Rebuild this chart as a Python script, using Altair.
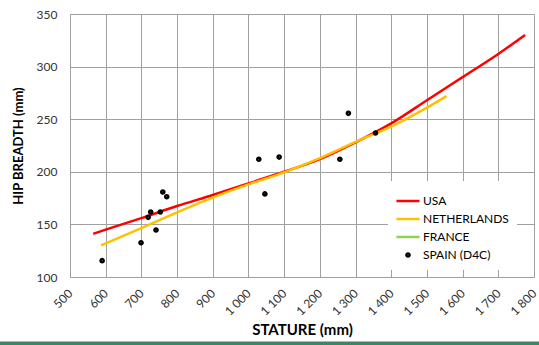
import altair as alt
import pandas as pd

# ---- data ----
series_names = ["USA", "NETHERLANDS", "FRANCE", "SPAIN (D4C)"]
series_colors = ["#ff0000", "#ffc000", "#92d050", "#000000"]

usa_stature = [565, 600, 700, 800, 900, 1000, 1100, 1200, 1300, 1400, 1500, 1600, 1700, 1775]
usa_hip = [141, 145, 156, 167.5, 178, 189, 200, 212, 228, 246, 268, 290, 312, 330]

nl_stature = [587, 700, 800, 900, 1000, 1100, 1200, 1300, 1400, 1500, 1555]
nl_hip = [130, 146.5, 161.5, 175.5, 188, 199.5, 213, 228.5, 243, 261, 272]

spain_stature = [590, 699, 719, 726, 741, 753, 760, 771, 1029, 1046, 1086, 1256, 1280, 1356]
spain_hip = [115.5, 132.6, 156.7, 161.8, 144.7, 161.8, 180.8, 176.3, 211.9, 179, 214, 211.9, 255.6, 236.9]

x_ticks = list(range(500, 1801, 100))
y_ticks = [100, 150, 200, 250, 300, 350]

# legend / marker symbols (unit-box paths, scaled by the symbol size)
LINE_SYMBOL = "M-1.1,0L1.1,0"
DOT_SYMBOL = "M-0.15,0A0.15,0.15 0 1,0 0.15,0A0.15,0.15 0 1,0 -0.15,0Z"
series_shapes = [LINE_SYMBOL, LINE_SYMBOL, LINE_SYMBOL, DOT_SYMBOL]
SYMBOL_SIZE = 441

usa_df = pd.DataFrame({"stature": usa_stature, "hip": usa_hip, "series": "USA"})
nl_df = pd.DataFrame({"stature": nl_stature, "hip": nl_hip, "series": "NETHERLANDS"})
spain_df = pd.DataFrame({"stature": spain_stature, "hip": spain_hip, "series": "SPAIN (D4C)"})

FONT = "Lato"
GRID = "#a0a0a0"

x_enc = alt.X(
    "stature:Q",
    scale=alt.Scale(domain=[500, 1800], nice=False, zero=False),
    axis=alt.Axis(
        values=x_ticks,
        labelExpr="replace(format(datum.value, ','), ',', ' ')",
        labelAngle=315,
        labelAlign="right",
        labelBaseline="middle",
        labelPadding=14,
        labelOverlap=False,
        labelFlush=False,
        labelFont=FONT,
        labelFontSize=12,
        labelColor="#333333",
        ticks=False,
        grid=True,
        gridColor=GRID,
        domainColor=GRID,
        title="STATURE (mm)",
        titleFont=FONT,
        titleFontSize=15,
        titleFontWeight="bold",
        titleColor="#000000",
        titleX=232,
        titleY=52,
        titleAlign="center",
        titleBaseline="middle",
    ),
)
y_enc = alt.Y(
    "hip:Q",
    scale=alt.Scale(domain=[100, 350], nice=False, zero=False),
    axis=alt.Axis(
        values=y_ticks,
        labelPadding=13,
        labelFont=FONT,
        labelFontSize=12,
        labelColor="#333333",
        ticks=False,
        grid=True,
        gridColor=GRID,
        domainColor=GRID,
        title="HIP BREADTH (mm)",
        titleFont=FONT,
        titleFontSize=13,
        titleFontWeight="bold",
        titleColor="#000000",
        titleAngle=270,
        titleX=-52,
        titleY=131.5,
        titleAlign="center",
        titleBaseline="middle",
    ),
)

legend = alt.Legend(
    title=None,
    orient="none",
    legendX=318,
    legendY=167,
    fillColor="white",
    padding=8,
    rowPadding=0,
    labelOffset=3,
    labelFont=FONT,
    labelFontSize=12,
    labelColor="#000000",
    symbolStrokeWidth=2.5,
    symbolSize=SYMBOL_SIZE,
)

color_enc = alt.Color(
    "series:N",
    scale=alt.Scale(domain=series_names, range=series_colors),
    legend=legend,
)

usa_line = alt.Chart(usa_df).mark_line(strokeWidth=2.5, interpolate="monotone").encode(
    x=x_enc, y=y_enc, color=color_enc
)
nl_line = alt.Chart(nl_df).mark_line(strokeWidth=2.5, interpolate="monotone").encode(
    x=x_enc, y=y_enc, color=color_enc
)
points = alt.Chart(spain_df).mark_point(
    filled=False, strokeWidth=2.5, opacity=1, size=SYMBOL_SIZE
).encode(
    x=x_enc,
    y=y_enc,
    color=color_enc,
    shape=alt.Shape("series:N", scale=alt.Scale(domain=series_names, range=series_shapes), legend=legend),
)

band = alt.Chart(alt.Data(values=[{"k": 0}])).mark_rect(color="#3f8466").encode(
    x=alt.value(-70), x2=alt.value(469), y=alt.value(327.5), y2=alt.value(331)
)

chart = (
    alt.layer(band, usa_line, nl_line, points)
    .properties(
        width=464,
        height=263,
        autosize=alt.AutoSizeParams(type="none"),
        padding={"left": 70, "top": 14, "right": 5, "bottom": 68},
        background="white",
    )
    .configure_view(stroke=None)
)

chart.save("out.html", embed_options={"renderer": "svg", "actions": False})
